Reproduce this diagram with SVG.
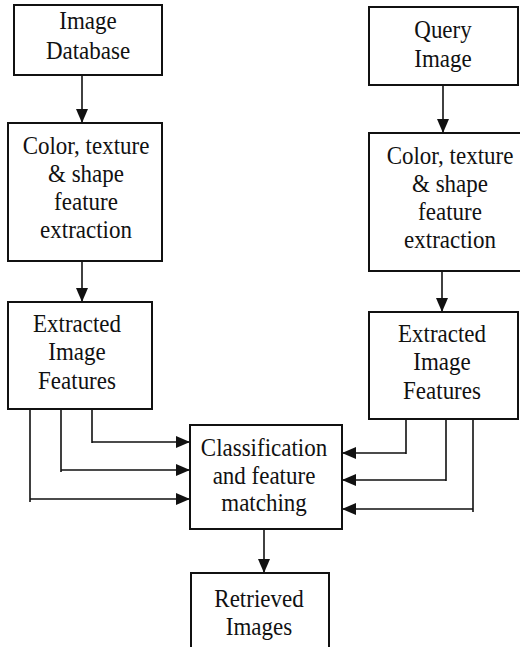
<svg xmlns="http://www.w3.org/2000/svg" width="520" height="647" viewBox="0 0 520 647">
<style>
.box{fill:#fff;stroke:#111;stroke-width:2}
.lbl{font-family:"Liberation Serif","Times New Roman",serif;font-size:23px;fill:#111;text-anchor:middle}
.conn{fill:none;stroke:#111;stroke-width:1.6}
</style>
<defs>
<marker id="ah" viewBox="0 0 14 12" refX="14" refY="6" markerWidth="14" markerHeight="12" markerUnits="userSpaceOnUse" orient="auto">
<path d="M0,0 L14,6 L0,12 z" fill="#111"/>
</marker>
</defs>
<rect width="520" height="647" fill="#fff"/>
<g id="connectors">
<path class="conn" d="M82,75 V123" marker-end="url(#ah)"/>
<path class="conn" d="M82,261 V302" marker-end="url(#ah)"/>
<path class="conn" d="M443,85 V133" marker-end="url(#ah)"/>
<path class="conn" d="M442,271 V312" marker-end="url(#ah)"/>
<path class="conn" d="M92,409 V443 M92,442 H190" marker-end="url(#ah)"/>
<path class="conn" d="M61,409 V472 M61,470 H190" marker-end="url(#ah)"/>
<path class="conn" d="M30,409 V502 M30,499 H190" marker-end="url(#ah)"/>
<path class="conn" d="M406,419 V454 M406,453 H342" marker-end="url(#ah)"/>
<path class="conn" d="M446,419 V481 M446,480 H342" marker-end="url(#ah)"/>
<path class="conn" d="M473,419 V512 M473,509 H342" marker-end="url(#ah)"/>
<path class="conn" d="M264,529 V573" marker-end="url(#ah)"/>
</g>
<g id="image-database">
<rect class="box" x="14" y="5" width="148" height="70"/>
<text class="lbl" transform="translate(88,29) scale(1,1.1)">Image</text>
<text class="lbl" transform="translate(88,59) scale(1,1.1)">Database</text>
</g>
<g id="color-left">
<rect class="box" x="8" y="123" width="154" height="138"/>
<text class="lbl" transform="translate(86,154) scale(1,1.1)">Color, texture</text>
<text class="lbl" transform="translate(86,182) scale(1,1.1)">&amp; shape</text>
<text class="lbl" transform="translate(86,210) scale(1,1.1)">feature</text>
<text class="lbl" transform="translate(86,238) scale(1,1.1)">extraction</text>
</g>
<g id="extracted-left">
<rect class="box" x="8" y="302" width="144" height="107"/>
<text class="lbl" transform="translate(77,332) scale(1,1.1)">Extracted</text>
<text class="lbl" transform="translate(77,360) scale(1,1.1)">Image</text>
<text class="lbl" transform="translate(77,389) scale(1,1.1)">Features</text>
</g>
<g id="query-image">
<rect class="box" x="369" y="7" width="149" height="78"/>
<text class="lbl" transform="translate(443,38) scale(1,1.1)">Query</text>
<text class="lbl" transform="translate(443,67) scale(1,1.1)">Image</text>
</g>
<g id="color-right">
<rect class="box" x="369" y="133" width="153" height="138"/>
<text class="lbl" transform="translate(450,164) scale(1,1.1)">Color, texture</text>
<text class="lbl" transform="translate(450,192) scale(1,1.1)">&amp; shape</text>
<text class="lbl" transform="translate(450,220) scale(1,1.1)">feature</text>
<text class="lbl" transform="translate(450,248) scale(1,1.1)">extraction</text>
</g>
<g id="extracted-right">
<rect class="box" x="369" y="312" width="149" height="107"/>
<text class="lbl" transform="translate(442,342) scale(1,1.1)">Extracted</text>
<text class="lbl" transform="translate(442,370) scale(1,1.1)">Image</text>
<text class="lbl" transform="translate(442,399) scale(1,1.1)">Features</text>
</g>
<g id="classification">
<rect class="box" x="190" y="425" width="152" height="104"/>
<text class="lbl" transform="translate(264,456) scale(1,1.1)">Classification</text>
<text class="lbl" transform="translate(264,484) scale(1,1.1)">and feature</text>
<text class="lbl" transform="translate(264,511) scale(1,1.1)">matching</text>
</g>
<g id="retrieved-images">
<rect class="box" x="191" y="573" width="138" height="80"/>
<text class="lbl" transform="translate(259,607) scale(1,1.1)">Retrieved</text>
<text class="lbl" transform="translate(259,635) scale(1,1.1)">Images</text>
</g>
</svg>
